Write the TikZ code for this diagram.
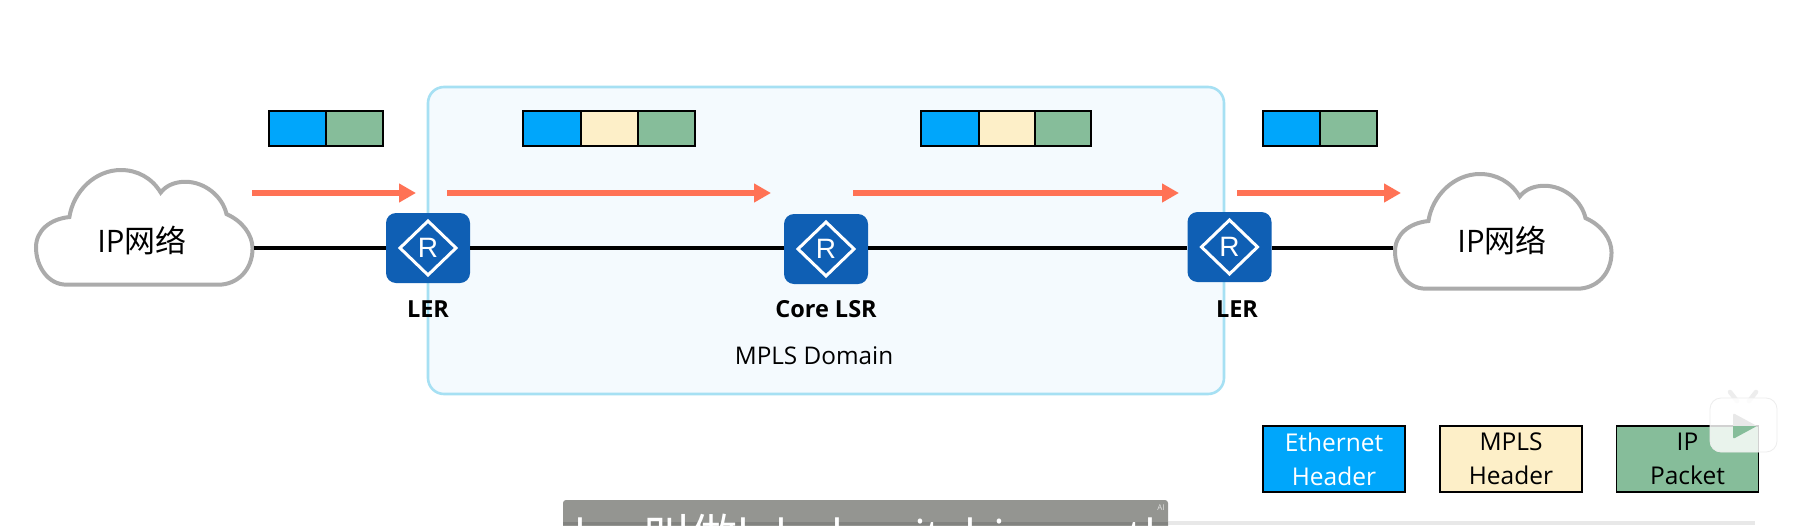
\documentclass[tikz,border=0pt]{standalone}
\usepackage{fontspec}
\setmainfont{Open Sans}
\newfontfamily\cjk{Noto Sans CJK SC}
\newfontfamily\arialish{Liberation Sans}
\usetikzlibrary{arrows.meta}
\definecolor{ethblue}{HTML}{00A6FB}
\definecolor{mplscream}{HTML}{FDEFC8}
\definecolor{ipgreen}{HTML}{86BD9A}
\definecolor{arrowred}{HTML}{FF7255}
\definecolor{routerblue}{HTML}{0F5FB4}
\definecolor{cloudgray}{HTML}{ABABAB}
\definecolor{domainfill}{HTML}{F4FAFE}
\definecolor{domainedge}{HTML}{A6E0F3}
\definecolor{capgray}{HTML}{949591}
\tikzset{
  x=1pt,y=-1pt,
  cell/.style={draw=black,line width=1.8pt,minimum height=35pt,inner sep=0pt,anchor=north west},
  legend/.style={draw=black,line width=1.8pt,minimum height=66pt,minimum width=142pt,inner sep=0pt,align=center,font=\fontsize{24.5}{34}\selectfont},
  flow/.style={arrowred,line width=6pt,-{Triangle[length=17pt,width=18pt]}},
  wire/.style={black,line width=3.6pt},
  lbl/.style={font=\fontsize{23.5}{28}\selectfont\bfseries,inner sep=0pt},
  router/.style={fill=routerblue,rounded corners=10pt,minimum width=84pt,minimum height=70pt,inner sep=0pt},
  cloudtxt/.style={font=\fontsize{31}{36}\selectfont,inner sep=0pt}
}
\newcommand{\cloudshape}[2]{%
  \draw[cloudgray,line width=4pt,fill=white,shift={(#1+2,#2+2)},xscale=.982,yscale=.98]
    (31,117) .. controls (12,117) and (0,98) .. (0,79)
    .. controls (0,62) and (14,50) .. (34,48)
    .. controls (38,22) and (60,0) .. (86.5,0)
    .. controls (103,0) and (118,8) .. (127,23)
    .. controls (133,15) and (143,12) .. (152,12)
    .. controls (172,12) and (190,27) .. (194,45)
    .. controls (210,52) and (220.5,66) .. (220.5,80)
    .. controls (220.5,102) and (205,117) .. (186,117)
    -- cycle;}
\newcommand{\routerglyph}[3]{%
  \node[router] (#1) at (#2,#3) {};
  \draw[white,line width=3pt] (#2-28,#3) -- (#2,#3-27) -- (#2+28,#3) -- (#2,#3+27) -- cycle;
  \node[white,inner sep=0pt,font=\arialish\fontsize{28}{28}\selectfont] at (#2,#3) {R};}
\begin{document}
\begin{tikzpicture}
\useasboundingbox (0,0) rectangle (1793,525);
\fill[white] (0,0) rectangle (1793,525);
% domain
\draw[domainedge,fill=domainfill,line width=2.6pt,rounded corners=16pt] (428,87) rectangle (1224,394);
\node[inner sep=0pt,font=\fontsize{24.3}{28}\selectfont] (domain) at (814,356) {MPLS Domain};
% routers
\routerglyph{r1}{428}{248}
\routerglyph{r2}{826}{249}
\routerglyph{r3}{1229.5}{247}
% clouds
\cloudshape{34}{168}
\cloudshape{1393}{172}
\node[cloudtxt] (c1) at (142,240) {IP{\cjk 网络}};
\node[cloudtxt] (c2) at (1502,240) {IP{\cjk 网络}};
\coordinate (c1e) at (254,248);
\coordinate (c2w) at (1393,248);
\draw[wire] (c1e) -- (c1e -| r1.west);
\draw[wire] (r1.east |- c1e) -- (r2.west |- c1e);
\draw[wire] (r2.east |- c1e) -- (r3.west |- c1e);
\draw[wire] (r3.east |- c2w) -- (c2w);
% labels
\node[lbl] (l1) at (428,309) {LER};
\node[lbl] (l2) at (826,309) {Core LSR};
\node[lbl] (l3) at (1237,309) {LER};
% arrows
\coordinate (a1s) at (252,193); \coordinate (a1e) at (416,193);
\coordinate (a2s) at (447,193); \coordinate (a2e) at (771,193);
\coordinate (a3s) at (853,193); \coordinate (a3e) at (1179,193);
\coordinate (a4s) at (1237,193); \coordinate (a4e) at (1401,193);
\draw[flow] (a1s) -- (a1e);
\draw[flow] (a2s) -- (a2e);
\draw[flow] (a3s) -- (a3e);
\draw[flow] (a4s) -- (a4e);
% packets
\node[cell,fill=ethblue,minimum width=57pt] (p1a) at (268,110) {};
\node[cell,fill=ipgreen,minimum width=57pt] (p1b) at (325,110) {};
\node[cell,fill=ethblue,minimum width=58pt] (p2a) at (522,110) {};
\node[cell,fill=mplscream,minimum width=57pt] (p2b) at (580,110) {};
\node[cell,fill=ipgreen,minimum width=57pt] (p2c) at (637,110) {};
\node[cell,fill=ethblue,minimum width=58pt] (p3a) at (920,110) {};
\node[cell,fill=mplscream,minimum width=57pt] (p3b) at (978,110) {};
\node[cell,fill=ipgreen,minimum width=56pt] (p3c) at (1034,110) {};
\node[cell,fill=ethblue,minimum width=58pt] (p4a) at (1262,110) {};
\node[cell,fill=ipgreen,minimum width=57pt] (p4b) at (1319,110) {};
% legend
\node[legend,fill=ethblue,text=white] (k1) at (1334,459) {Ethernet\\Header};
\node[legend,fill=mplscream] (k2) at (1511,459) {MPLS\\Header};
\node[legend,fill=ipgreen] (k3) at (1687.5,459) {IP\\Packet};
% player badge
\draw[black!7,line width=4.5pt,line cap=round] (1730,392) -- (1737,401) (1756,392) -- (1749,401);
\fill[white,opacity=.82,rounded corners=11pt] (1710,398) rectangle (1777,452);
\draw[black!7,line width=.8pt,rounded corners=11pt] (1710,398) rectangle (1777,452);
\begin{scope}
\clip[rounded corners=2pt] (1733,413) -- (1757,426) -- (1733,439) -- cycle;
\fill[black!9] (1730,410) rectangle (1760,426);
\fill[ipgreen] (1730,426) rectangle (1760,442);
\end{scope}
% caption
\fill[black!9] (1168,521) rectangle (1755,525);
\fill[capgray,rounded corners=3pt] (563,500) rectangle (1168,530);
\fill[capgray!88!black] (563,522) rectangle (1168,525);
\begin{scope}
\clip (563,500) rectangle (1168,525);
\node[white,anchor=base west,inner sep=0pt,font=\fontsize{47}{47}\selectfont] (cap) at (574,553) {lsp:\hspace{-6pt}{\cjk 叫做}label switching path};
\end{scope}
\node[white!75!capgray,inner sep=0pt,font=\fontsize{8}{8}\selectfont] (ai) at (1161,508) {AI};
\end{tikzpicture}
\end{document}
